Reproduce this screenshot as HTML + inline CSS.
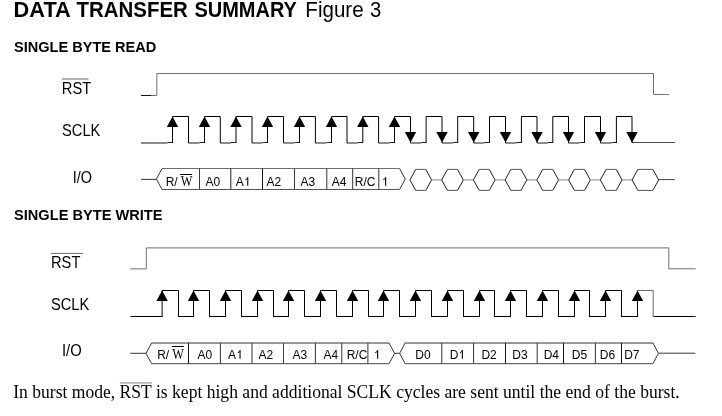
<!DOCTYPE html>
<html><head><meta charset="utf-8"><title>Data Transfer Summary</title>
<style>html,body{margin:0;padding:0;background:#fff;width:722px;height:416px;overflow:hidden}svg{display:block;will-change:transform}text{fill:#000}</style>
</head><body>
<svg width="722" height="416" viewBox="0 0 722 416">
<text transform="translate(13.59 16.9) scale(1 0.9978)" font-family="Liberation Sans" font-size="21.793" font-weight="bold">DATA</text>
<text transform="translate(76.6 16.9) scale(1 1.0641)" font-family="Liberation Sans" font-size="20.435" font-weight="bold">TRANSFER</text>
<text transform="translate(194.4 16.9) scale(1 1.0867)" font-family="Liberation Sans" font-size="20.010" font-weight="bold">SUMMARY</text>
<text transform="translate(305.35 17) scale(1 1.0602)" font-family="Liberation Sans" font-size="20.564" font-weight="normal">Figure</text>
<text transform="translate(369.89 17) scale(1 1.0740)" font-family="Liberation Sans" font-size="20.300" font-weight="normal">3</text>
<text transform="translate(14.01 51.6) scale(1 1.0376)" font-family="Liberation Sans" font-size="14.568" font-weight="bold">SINGLE BYTE READ</text>
<text transform="translate(14.01 219.6) scale(1 1.0340)" font-family="Liberation Sans" font-size="14.619" font-weight="bold">SINGLE BYTE WRITE</text>
<text transform="translate(61.82 93.7) scale(1 1.0883)" font-family="Liberation Sans" font-size="14.691" font-weight="normal">RST</text>
<path d="M61.9 79 H88.4" fill="none" stroke="#a8a8a8" stroke-width="1.8"/>
<text transform="translate(62.01 135.7) scale(1 1.0978)" font-family="Liberation Sans" font-size="14.696" font-weight="normal">SCLK</text>
<text transform="translate(72.8 182.7) scale(1 1.0849)" font-family="Liberation Sans" font-size="14.469" font-weight="normal">I/O</text>
<path d="M141 95.5 H151" fill="none" stroke="#111" stroke-width="1"/>
<path d="M151 95.5 H156.8 V73.5 H653.5 V94.5 H669" fill="none" stroke="#707070" stroke-width="1"/>
<path d="M141 143 H167.5" fill="none" stroke="#000" stroke-width="0.9"/>
<path d="M167.5 142.5 H172.5" fill="none" stroke="#222" stroke-width="1"/>
<path d="M188.5 143 H199.5" fill="none" stroke="#000" stroke-width="0.9"/>
<path d="M199.5 142.5 H204.5" fill="none" stroke="#222" stroke-width="1"/>
<path d="M220.3 143 H231" fill="none" stroke="#000" stroke-width="0.9"/>
<path d="M231 142.5 H236" fill="none" stroke="#222" stroke-width="1"/>
<path d="M252 143 H262.5" fill="none" stroke="#000" stroke-width="0.9"/>
<path d="M262.5 142.5 H267.5" fill="none" stroke="#222" stroke-width="1"/>
<path d="M283.5 143 H294.5" fill="none" stroke="#000" stroke-width="0.9"/>
<path d="M294.5 142.5 H299.5" fill="none" stroke="#222" stroke-width="1"/>
<path d="M315.4 143 H326.5" fill="none" stroke="#000" stroke-width="0.9"/>
<path d="M326.5 142.5 H331.5" fill="none" stroke="#222" stroke-width="1"/>
<path d="M347 143 H357.8" fill="none" stroke="#000" stroke-width="0.9"/>
<path d="M357.8 142.5 H362.8" fill="none" stroke="#222" stroke-width="1"/>
<path d="M378.6 143 H389.5" fill="none" stroke="#000" stroke-width="0.9"/>
<path d="M389.5 142.5 H394.5" fill="none" stroke="#222" stroke-width="1"/>
<path d="M410.5 143 H421.1" fill="none" stroke="#000" stroke-width="0.9"/>
<path d="M421.1 142.5 H426.1" fill="none" stroke="#222" stroke-width="1"/>
<path d="M442 143 H452.7" fill="none" stroke="#000" stroke-width="0.9"/>
<path d="M452.7 142.5 H457.7" fill="none" stroke="#222" stroke-width="1"/>
<path d="M473.7 143 H484.5" fill="none" stroke="#000" stroke-width="0.9"/>
<path d="M484.5 142.5 H489.5" fill="none" stroke="#222" stroke-width="1"/>
<path d="M505.5 143 H516.4" fill="none" stroke="#000" stroke-width="0.9"/>
<path d="M516.4 142.5 H521.4" fill="none" stroke="#222" stroke-width="1"/>
<path d="M537 143 H547.8" fill="none" stroke="#000" stroke-width="0.9"/>
<path d="M547.8 142.5 H552.8" fill="none" stroke="#222" stroke-width="1"/>
<path d="M568.5 143 H579.5" fill="none" stroke="#000" stroke-width="0.9"/>
<path d="M579.5 142.5 H584.5" fill="none" stroke="#222" stroke-width="1"/>
<path d="M600.5 143 H611.4" fill="none" stroke="#000" stroke-width="0.9"/>
<path d="M611.4 142.5 H616.4" fill="none" stroke="#222" stroke-width="1"/>
<path d="M632 142.5 H674.9" fill="none" stroke="#4a4a4a" stroke-width="1"/>
<path d="M172.5 143 V116.5 H188.5 V143 M204.5 143 V116.5 H220.3 V143 M236 143 V116.5 H252 V143 M267.5 143 V116.5 H283.5 V143 M299.5 143 V116.5 H315.4 V143 M331.5 143 V116.5 H347 V143 M362.8 143 V116.5 H378.6 V143 M394.5 143 V116.5 H410.5 V143 M426.1 143 V116.5 H442 V143 M457.7 143 V116.5 H473.7 V143 M489.5 143 V116.5 H505.5 V143 M521.4 143 V116.5 H537 V143 M552.8 143 V116.5 H568.5 V143 M584.5 143 V116.5 H600.5 V143 M616.4 143 V116.5 H632 V143" fill="none" stroke="#000" stroke-width="1" stroke-linejoin="miter"/>
<path d="M172.5 116.5 L178.2 127 L166.8 127 Z" fill="#000"/>
<path d="M204.5 116.5 L210.2 127 L198.8 127 Z" fill="#000"/>
<path d="M236 116.5 L241.7 127 L230.3 127 Z" fill="#000"/>
<path d="M267.5 116.5 L273.2 127 L261.8 127 Z" fill="#000"/>
<path d="M299.5 116.5 L305.2 127 L293.8 127 Z" fill="#000"/>
<path d="M331.5 116.5 L337.2 127 L325.8 127 Z" fill="#000"/>
<path d="M362.8 116.5 L368.5 127 L357.1 127 Z" fill="#000"/>
<path d="M394.5 116.5 L400.2 127 L388.8 127 Z" fill="#000"/>
<path d="M404.8 132 L416.2 132 L410.5 142.5 Z" fill="#000"/>
<path d="M436.3 132 L447.7 132 L442 142.5 Z" fill="#000"/>
<path d="M468 132 L479.4 132 L473.7 142.5 Z" fill="#000"/>
<path d="M499.8 132 L511.2 132 L505.5 142.5 Z" fill="#000"/>
<path d="M531.3 132 L542.7 132 L537 142.5 Z" fill="#000"/>
<path d="M562.8 132 L574.2 132 L568.5 142.5 Z" fill="#000"/>
<path d="M594.8 132 L606.2 132 L600.5 142.5 Z" fill="#000"/>
<path d="M626.3 132 L637.7 132 L632 142.5 Z" fill="#000"/>
<path d="M141 179.4 H156.4" fill="none" stroke="#333" stroke-width="1"/>
<path d="M162 168.5 H399.6" fill="none" stroke="#6e6e6e" stroke-width="1"/>
<path d="M162 189.5 H399.6" fill="none" stroke="#585858" stroke-width="1"/>
<path d="M162 168.5 L156.4 179 L162 189.5 M399.6 168.5 L405.2 179 L399.6 189.5" fill="none" stroke="#333" stroke-width="1"/>
<path d="M199.5 168.5 V189.5" fill="none" stroke="#3a3a3a" stroke-width="1"/>
<path d="M230.8 168.5 V189.5" fill="none" stroke="#222" stroke-width="1"/>
<path d="M262.5 168.5 V189.5" fill="none" stroke="#111" stroke-width="1"/>
<path d="M294.5 168.5 V189.5" fill="none" stroke="#3a3a3a" stroke-width="1"/>
<path d="M326.8 168.5 V189.5" fill="none" stroke="#333" stroke-width="1"/>
<path d="M352.7 168.5 V189.5" fill="none" stroke="#333" stroke-width="1"/>
<path d="M378.8 168.5 V189.5" fill="none" stroke="#333" stroke-width="1"/>
<text transform="translate(165.64 185.7) scale(1 1.0296)" font-family="Liberation Sans" font-size="12.000" font-weight="normal">R/</text>
<text transform="translate(180.7 185.7) scale(1 1.1450)" font-family="Liberation Serif" font-size="12.400" font-weight="normal">W</text>
<path d="M179.9 174.5 H191.9" fill="none" stroke="#000" stroke-width="1"/>
<text transform="translate(205.4 185.7) scale(1 1.0296)" font-family="Liberation Sans" font-size="12.000" font-weight="normal">A0</text>
<text transform="translate(266.5 185.7) scale(1 1.0296)" font-family="Liberation Sans" font-size="12.000" font-weight="normal">A2</text>
<text transform="translate(300.5 185.7) scale(1 1.0296)" font-family="Liberation Sans" font-size="12.000" font-weight="normal">A3</text>
<text transform="translate(331.8 185.7) scale(1 1.0296)" font-family="Liberation Sans" font-size="12.000" font-weight="normal">A4</text>
<text transform="translate(354.74 185.7) scale(1 1.0296)" font-family="Liberation Sans" font-size="12.000" font-weight="normal">R/C</text>
<text transform="translate(235.8 185.7) scale(1 1.0296)" font-family="Liberation Sans" font-size="12.000" font-weight="normal">A</text>
<path d="M247.74 177.2 V185.7" stroke="#000" stroke-width="1.1"/>
<path d="M248.29 177.2 L245.11 179.5 L246.01 180.2 Z" fill="#000"/>
<path d="M385.63 177.2 V185.7" stroke="#000" stroke-width="1.1"/>
<path d="M386.18 177.2 L383 179.5 L383.9 180.2 Z" fill="#000"/>
<path d="M415.7 169.4 H425.8" fill="none" stroke="#555" stroke-width="1"/>
<path d="M415.7 190.4 H425.8" fill="none" stroke="#555" stroke-width="1"/>
<path d="M415.7 169.4 L409.9 179.9 L415.7 190.4 M425.8 169.4 L431.6 179.9 L425.8 190.4" fill="none" stroke="#1a1a1a" stroke-width="1"/>
<path d="M431.6 179.9 H441.64" fill="none" stroke="#8a8a8a" stroke-width="1"/>
<path d="M447.44 169.4 H457.54" fill="none" stroke="#555" stroke-width="1"/>
<path d="M447.44 190.4 H457.54" fill="none" stroke="#555" stroke-width="1"/>
<path d="M447.44 169.4 L441.64 179.9 L447.44 190.4 M457.54 169.4 L463.34 179.9 L457.54 190.4" fill="none" stroke="#1a1a1a" stroke-width="1"/>
<path d="M463.34 179.9 H473.38" fill="none" stroke="#8a8a8a" stroke-width="1"/>
<path d="M479.18 169.4 H489.28" fill="none" stroke="#555" stroke-width="1"/>
<path d="M479.18 190.4 H489.28" fill="none" stroke="#555" stroke-width="1"/>
<path d="M479.18 169.4 L473.38 179.9 L479.18 190.4 M489.28 169.4 L495.08 179.9 L489.28 190.4" fill="none" stroke="#1a1a1a" stroke-width="1"/>
<path d="M495.08 179.9 H505.12" fill="none" stroke="#8a8a8a" stroke-width="1"/>
<path d="M510.92 169.4 H521.02" fill="none" stroke="#555" stroke-width="1"/>
<path d="M510.92 190.4 H521.02" fill="none" stroke="#555" stroke-width="1"/>
<path d="M510.92 169.4 L505.12 179.9 L510.92 190.4 M521.02 169.4 L526.82 179.9 L521.02 190.4" fill="none" stroke="#1a1a1a" stroke-width="1"/>
<path d="M526.82 179.9 H536.86" fill="none" stroke="#8a8a8a" stroke-width="1"/>
<path d="M542.66 169.4 H552.76" fill="none" stroke="#555" stroke-width="1"/>
<path d="M542.66 190.4 H552.76" fill="none" stroke="#555" stroke-width="1"/>
<path d="M542.66 169.4 L536.86 179.9 L542.66 190.4 M552.76 169.4 L558.56 179.9 L552.76 190.4" fill="none" stroke="#1a1a1a" stroke-width="1"/>
<path d="M558.56 179.9 H568.6" fill="none" stroke="#8a8a8a" stroke-width="1"/>
<path d="M574.4 169.4 H584.5" fill="none" stroke="#555" stroke-width="1"/>
<path d="M574.4 190.4 H584.5" fill="none" stroke="#555" stroke-width="1"/>
<path d="M574.4 169.4 L568.6 179.9 L574.4 190.4 M584.5 169.4 L590.3 179.9 L584.5 190.4" fill="none" stroke="#1a1a1a" stroke-width="1"/>
<path d="M590.3 179.9 H600.34" fill="none" stroke="#8a8a8a" stroke-width="1"/>
<path d="M606.14 169.4 H616.24" fill="none" stroke="#555" stroke-width="1"/>
<path d="M606.14 190.4 H616.24" fill="none" stroke="#555" stroke-width="1"/>
<path d="M606.14 169.4 L600.34 179.9 L606.14 190.4 M616.24 169.4 L622.04 179.9 L616.24 190.4" fill="none" stroke="#1a1a1a" stroke-width="1"/>
<path d="M622.04 179.9 H632.08" fill="none" stroke="#8a8a8a" stroke-width="1"/>
<path d="M637.88 169.4 H652.88" fill="none" stroke="#555" stroke-width="1"/>
<path d="M637.88 190.4 H652.88" fill="none" stroke="#555" stroke-width="1"/>
<path d="M637.88 169.4 L632.08 179.9 L637.88 190.4 M652.88 169.4 L658.68 179.9 L652.88 190.4" fill="none" stroke="#1a1a1a" stroke-width="1"/>
<path d="M658.68 179.6 H674.8" fill="none" stroke="#444" stroke-width="1"/>
<text transform="translate(51.02 267.8) scale(1 1.0982)" font-family="Liberation Sans" font-size="14.691" font-weight="normal">RST</text>
<path d="M50.9 253.4 H83" fill="none" stroke="#6a6a6a" stroke-width="1"/>
<text transform="translate(50.91 310) scale(1 1.0879)" font-family="Liberation Sans" font-size="14.696" font-weight="normal">SCLK</text>
<text transform="translate(61.97 355.8) scale(1 1.0899)" font-family="Liberation Sans" font-size="14.803" font-weight="normal">I/O</text>
<path d="M130.2 268.9 H146.3 V247.9 H668.8 V268.8 H695.6" fill="none" stroke="#707070" stroke-width="1"/>
<path d="M130.4 316.5 H162.1" fill="none" stroke="#000" stroke-width="1"/>
<path d="M178.5 316.5 H193.5" fill="none" stroke="#000" stroke-width="1"/>
<path d="M209.5 316.5 H225.5" fill="none" stroke="#000" stroke-width="1"/>
<path d="M241.5 316.5 H257.5" fill="none" stroke="#000" stroke-width="1"/>
<path d="M273.5 316.5 H288.5" fill="none" stroke="#000" stroke-width="1"/>
<path d="M304.5 316.5 H320.5" fill="none" stroke="#000" stroke-width="1"/>
<path d="M336.5 316.5 H352.5" fill="none" stroke="#000" stroke-width="1"/>
<path d="M368.5 316.5 H383.5" fill="none" stroke="#000" stroke-width="1"/>
<path d="M399.5 316.5 H415.5" fill="none" stroke="#000" stroke-width="1"/>
<path d="M431.5 316.5 H447.5" fill="none" stroke="#000" stroke-width="1"/>
<path d="M463.5 316.5 H479.5" fill="none" stroke="#000" stroke-width="1"/>
<path d="M494.5 316.5 H510.5" fill="none" stroke="#000" stroke-width="1"/>
<path d="M526.5 316.5 H542.5" fill="none" stroke="#000" stroke-width="1"/>
<path d="M558.5 316.5 H574.5" fill="none" stroke="#000" stroke-width="1"/>
<path d="M589.5 316.5 H605.5" fill="none" stroke="#000" stroke-width="1"/>
<path d="M621.5 316.5 H637.5" fill="none" stroke="#000" stroke-width="1"/>
<path d="M653.2 316.5 H695.6" fill="none" stroke="#000" stroke-width="1"/>
<path d="M637.5 317 V290.5" fill="none" stroke="#000" stroke-width="1"/>
<path d="M637.5 290.5 H653.2 V317" fill="none" stroke="#666" stroke-width="1" stroke-linejoin="miter"/>
<path d="M162.1 317 V290.5 H178.5 V317 M193.5 317 V290.5 H209.5 V317 M225.5 317 V290.5 H241.5 V317 M257.5 317 V290.5 H273.5 V317 M288.5 317 V290.5 H304.5 V317 M320.5 317 V290.5 H336.5 V317 M352.5 317 V290.5 H368.5 V317 M383.5 317 V290.5 H399.5 V317 M415.5 317 V290.5 H431.5 V317 M447.5 317 V290.5 H463.5 V317 M479.5 317 V290.5 H494.5 V317 M510.5 317 V290.5 H526.5 V317 M542.5 317 V290.5 H558.5 V317 M574.5 317 V290.5 H589.5 V317 M605.5 317 V290.5 H621.5 V317" fill="none" stroke="#000" stroke-width="1" stroke-linejoin="miter"/>
<path d="M162.1 290.5 L167.8 301 L156.4 301 Z" fill="#000"/>
<path d="M193.5 290.5 L199.2 301 L187.8 301 Z" fill="#000"/>
<path d="M225.5 290.5 L231.2 301 L219.8 301 Z" fill="#000"/>
<path d="M257.5 290.5 L263.2 301 L251.8 301 Z" fill="#000"/>
<path d="M288.5 290.5 L294.2 301 L282.8 301 Z" fill="#000"/>
<path d="M320.5 290.5 L326.2 301 L314.8 301 Z" fill="#000"/>
<path d="M352.5 290.5 L358.2 301 L346.8 301 Z" fill="#000"/>
<path d="M383.5 290.5 L389.2 301 L377.8 301 Z" fill="#000"/>
<path d="M415.5 290.5 L421.2 301 L409.8 301 Z" fill="#000"/>
<path d="M447.5 290.5 L453.2 301 L441.8 301 Z" fill="#000"/>
<path d="M479.5 290.5 L485.2 301 L473.8 301 Z" fill="#000"/>
<path d="M510.5 290.5 L516.2 301 L504.8 301 Z" fill="#000"/>
<path d="M542.5 290.5 L548.2 301 L536.8 301 Z" fill="#000"/>
<path d="M574.5 290.5 L580.2 301 L568.8 301 Z" fill="#000"/>
<path d="M605.5 290.5 L611.2 301 L599.8 301 Z" fill="#000"/>
<path d="M637.5 290.5 L643.2 301 L631.8 301 Z" fill="#000"/>
<path d="M130.4 353.3 H146" fill="none" stroke="#333" stroke-width="1"/>
<path d="M151.6 343 H389" fill="none" stroke="#333" stroke-width="1"/>
<path d="M151.6 363.7 H389" fill="none" stroke="#444" stroke-width="1"/>
<path d="M151.6 343 L146 353.35 L151.6 363.7 M389 343 L394.6 353.35 L389 363.7" fill="none" stroke="#333" stroke-width="1"/>
<path d="M188.5 343 V363.7" fill="none" stroke="#111" stroke-width="1"/>
<path d="M220.4 343 V363.7" fill="none" stroke="#333" stroke-width="1"/>
<path d="M252 343 V363.7" fill="none" stroke="#333" stroke-width="1"/>
<path d="M283.5 343 V363.7" fill="none" stroke="#444" stroke-width="1"/>
<path d="M315.4 343 V363.7" fill="none" stroke="#333" stroke-width="1"/>
<path d="M341.8 343 V363.7" fill="none" stroke="#333" stroke-width="1"/>
<path d="M367.9 343 V363.7" fill="none" stroke="#333" stroke-width="1"/>
<path d="M394.6 353.3 H399.7" fill="none" stroke="#333" stroke-width="1"/>
<path d="M405.1 343 H653" fill="none" stroke="#333" stroke-width="1"/>
<path d="M405.1 363.7 H653" fill="none" stroke="#444" stroke-width="1"/>
<path d="M405.1 343 L399.7 353.35 L405.1 363.7 M653 343 L658.4 353.35 L653 363.7" fill="none" stroke="#333" stroke-width="1"/>
<path d="M441.8 343 V363.7" fill="none" stroke="#333" stroke-width="1"/>
<path d="M473.6 343 V363.7" fill="none" stroke="#333" stroke-width="1"/>
<path d="M505.5 343 V363.7" fill="none" stroke="#111" stroke-width="1"/>
<path d="M537.2 343 V363.7" fill="none" stroke="#333" stroke-width="1"/>
<path d="M563.5 343 V363.7" fill="none" stroke="#111" stroke-width="1"/>
<path d="M595.4 343 V363.7" fill="none" stroke="#333" stroke-width="1"/>
<path d="M621.5 343 V363.7" fill="none" stroke="#111" stroke-width="1"/>
<path d="M658.4 353.2 H695.3" fill="none" stroke="#333" stroke-width="1"/>
<text transform="translate(157.14 358.7) scale(1 1.0417)" font-family="Liberation Sans" font-size="12.000" font-weight="normal">R/</text>
<text transform="translate(172.3 358.7) scale(1 1.1327)" font-family="Liberation Serif" font-size="12.400" font-weight="normal">W</text>
<path d="M171.9 346.5 H183.9" fill="none" stroke="#000" stroke-width="1"/>
<text transform="translate(228.1 358.7) scale(1 1.0417)" font-family="Liberation Sans" font-size="12.000" font-weight="normal">A</text>
<path d="M240.04 350.1 V358.7" stroke="#000" stroke-width="1.1"/>
<path d="M240.59 350.1 L237.41 352.5 L238.31 353.2 Z" fill="#000"/>
<path d="M377.63 350.1 V358.7" stroke="#000" stroke-width="1.1"/>
<path d="M378.18 350.1 L375 352.5 L375.9 353.2 Z" fill="#000"/>
<text transform="translate(449.74 358.7) scale(1 1.0417)" font-family="Liberation Sans" font-size="12.000" font-weight="normal">D</text>
<path d="M462.35 350.1 V358.7" stroke="#000" stroke-width="1.1"/>
<path d="M462.9 350.1 L459.72 352.5 L460.62 353.2 Z" fill="#000"/>
<text transform="translate(197.6 358.7) scale(1 1.0417)" font-family="Liberation Sans" font-size="12.000" font-weight="normal">A0</text>
<text transform="translate(258.5 358.7) scale(1 1.0417)" font-family="Liberation Sans" font-size="12.000" font-weight="normal">A2</text>
<text transform="translate(292.6 358.7) scale(1 1.0417)" font-family="Liberation Sans" font-size="12.000" font-weight="normal">A3</text>
<text transform="translate(323.5 358.7) scale(1 1.0417)" font-family="Liberation Sans" font-size="12.000" font-weight="normal">A4</text>
<text transform="translate(346.64 358.7) scale(1 1.0417)" font-family="Liberation Sans" font-size="12.000" font-weight="normal">R/C</text>
<text transform="translate(415.34 358.7) scale(1 1.0417)" font-family="Liberation Sans" font-size="12.000" font-weight="normal">D0</text>
<text transform="translate(481.44 358.7) scale(1 1.0417)" font-family="Liberation Sans" font-size="12.000" font-weight="normal">D2</text>
<text transform="translate(512.24 358.7) scale(1 1.0417)" font-family="Liberation Sans" font-size="12.000" font-weight="normal">D3</text>
<text transform="translate(543.64 358.7) scale(1 1.0417)" font-family="Liberation Sans" font-size="12.000" font-weight="normal">D4</text>
<text transform="translate(571.74 358.7) scale(1 1.0417)" font-family="Liberation Sans" font-size="12.000" font-weight="normal">D5</text>
<text transform="translate(599.84 358.7) scale(1 1.0417)" font-family="Liberation Sans" font-size="12.000" font-weight="normal">D6</text>
<text transform="translate(624.14 358.7) scale(1 1.0417)" font-family="Liberation Sans" font-size="12.000" font-weight="normal">D7</text>
<text transform="translate(13.17 397.8) scale(1 1.0159)" font-family="Liberation Serif" font-size="17.583" font-weight="normal">In burst mode, RST is kept high and additional SCLK cycles are sent until the end of the burst.</text>
<path d="M119.9 382.9 H151.9" fill="none" stroke="#999" stroke-width="1.2"/>
</svg>
</body></html>
